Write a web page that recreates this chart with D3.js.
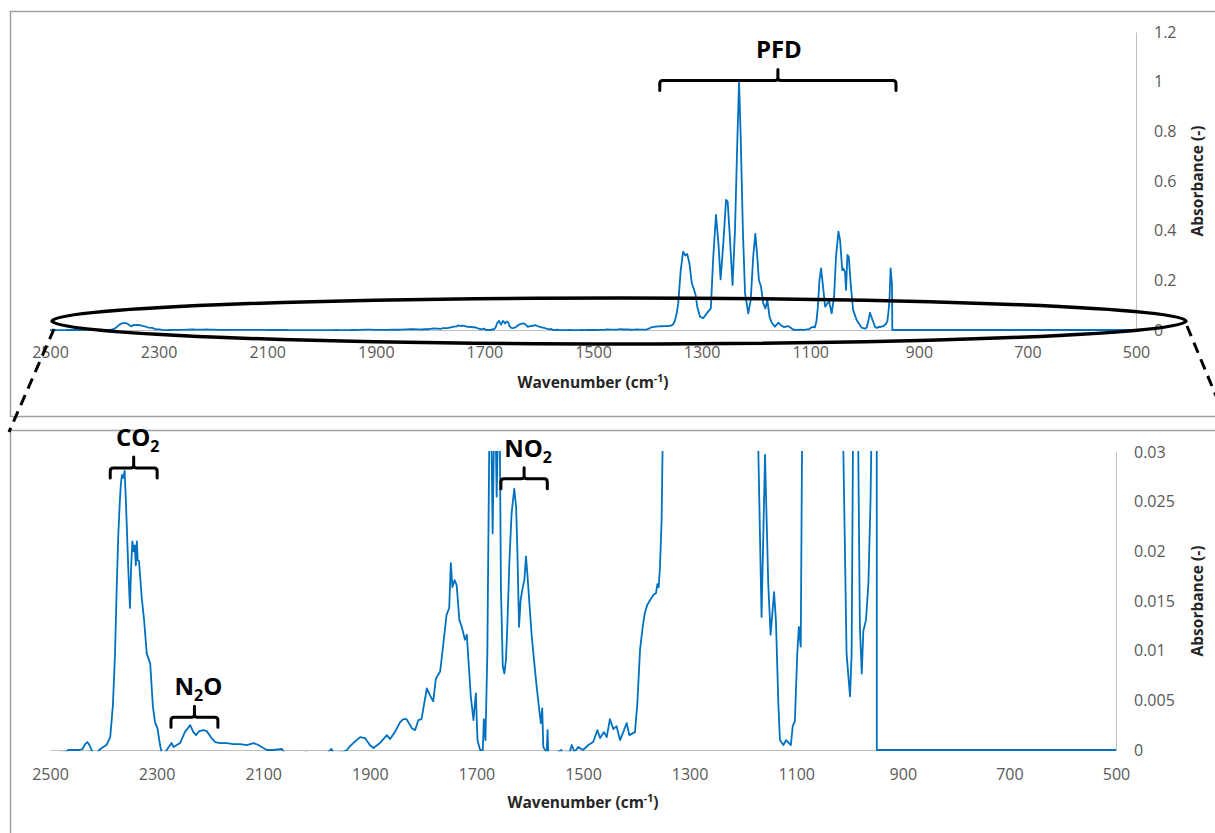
<!DOCTYPE html>
<html>
<head>
<meta charset="utf-8">
<script src="https://cdn.jsdelivr.net/npm/d3@7"></script>
<style>
  body { margin: 0; background: #fff; }
  svg { display: block; font-family: "Open Sans", sans-serif; }
</style>
</head>
<body>
<div id="chart"></div>
<script>
// FTIR spectrum of the gas phase - full view on top, zoom on 0-0.03 below
// same series in both panels, the zoom just clips everything above 0.03

// wavenumber (cm-1), descending
const wavenumbers = [
  2500, 2485, 2470, 2466, 2445, 2439, 2434, 2430, 2426, 2422, 2418, 2411, 2408, 2400, 2394, 2387,
  2382, 2378, 2375, 2372, 2369, 2367, 2365, 2362.5, 2360, 2357.5, 2353, 2350, 2348, 2345.5, 2343,
  2341, 2339, 2337, 2335.5, 2333, 2328, 2323.5, 2318.5, 2312, 2307, 2303, 2298.5, 2293.5, 2290,
  2284, 2281, 2272, 2268, 2262, 2256, 2247, 2237, 2231, 2226, 2220, 2212, 2206, 2197, 2190, 2181,
  2168, 2156, 2143, 2131, 2118, 2109, 2100, 2093, 2081, 2065, 2060, 2040, 2018, 2000, 1980, 1972,
  1968, 1950, 1943, 1937, 1931, 1918, 1909, 1900, 1893, 1881, 1868, 1862, 1853, 1843, 1837, 1831,
  1821, 1815, 1809, 1803, 1793, 1787, 1781, 1776, 1768, 1762, 1756, 1751, 1748, 1745, 1741, 1737,
  1732, 1727.5, 1721.5, 1718, 1715, 1710.5, 1705.5, 1701, 1698, 1693, 1688, 1686, 1683, 1679.5,
  1676, 1673, 1669.5, 1666, 1664, 1662, 1659, 1656, 1654, 1650.5, 1647.5, 1644.5, 1642, 1638,
  1634, 1629, 1625.5, 1623, 1620, 1617, 1613, 1610, 1607, 1604.5, 1601, 1596.5, 1592, 1587, 1582,
  1579, 1576.5, 1574.5, 1571, 1568, 1566.5, 1565, 1550, 1541, 1538, 1525, 1521, 1516, 1509, 1500,
  1490, 1481, 1473, 1468, 1460.5, 1455.5, 1449.5, 1443, 1437, 1430.5, 1424.5, 1418, 1413, 1402.5,
  1398, 1393, 1388, 1384, 1379.5, 1374, 1368, 1363, 1360.5, 1358, 1355.5, 1352.5, 1349.5, 1346,
  1343, 1338.5, 1334, 1330, 1326.5, 1322.5, 1318, 1315, 1311, 1308, 1303, 1297, 1288, 1283, 1278.5,
  1273.5, 1269, 1265, 1260, 1255, 1252, 1248, 1243, 1238.5, 1234, 1231, 1228, 1224, 1220, 1214,
  1209.5, 1205, 1201, 1197.5, 1194.5, 1190.5, 1186.5, 1182.5, 1179, 1175, 1171, 1165, 1158.5,
  1152.5, 1148, 1141.5, 1138, 1133.5, 1130.5, 1124, 1119, 1110, 1106.5, 1102.5, 1098, 1095, 1091.5,
  1088.5, 1086, 1083, 1080, 1077, 1072.5, 1068.5, 1065, 1060.5, 1056, 1052.5, 1048, 1045, 1041,
  1039, 1036, 1034, 1031.5, 1029, 1025.5, 1021, 1014.5, 1011.5, 1005.5, 999, 996, 993, 990, 986,
  983.5, 980.5, 977, 974, 969, 964.5, 960.5, 958, 956, 954, 952, 949.5, 949.2, 948.8, 900, 700, 500
]

// absorbance (-) at each wavenumber above
const absorbance = [
  -0.0004, -0.0003, -0.0002, 0, 0, 0.0001, 0.0006, 0.0008, 0.0005, 0, -0.0004, -0.0003, 0, 0.0003, 0.0005, 0.0013,
  0.0045, 0.0097, 0.016, 0.0215, 0.025, 0.0268, 0.0277, 0.0274, 0.0281, 0.0249, 0.0181, 0.0143, 0.0181, 0.021, 0.02,
  0.0206, 0.0186, 0.021, 0.0191, 0.019, 0.0154, 0.0131, 0.0097, 0.0087, 0.0044, 0.0028, 0.0022, 0.0005, -0.0004,
  -0.0003, 0, 0.0007, 0.0003, 0.0005, 0.0007, 0.0018, 0.0025, 0.0018, 0.0015, 0.0019, 0.002, 0.0019, 0.0012, 0.0008, 0.0007,
  0.0007, 0.0006, 0.0006, 0.0005, 0.0007, 0.0005, 0.0002, 0, 0, 0.0001, -0.0003, -0.0005, -0.0002, -0.0006, -0.0003, 0.0001,
  -0.0003, -0.0002, 0, 0.0004, 0.0007, 0.0013, 0.0012, 0.0005, 0.0002, 0.0007, 0.0015, 0.0011, 0.0018, 0.0028, 0.0031, 0.0031,
  0.0022, 0.002, 0.003, 0.0031, 0.0062, 0.0055, 0.0049, 0.0072, 0.0079, 0.0107, 0.0136, 0.0143, 0.0188, 0.0164, 0.0171, 0.0166,
  0.0131, 0.0124, 0.0111, 0.0116, 0.0091, 0.0054, 0.003, 0.0057, 0.001, 0, 0, 0.0031, 0.001, 0.0097,
  0.03, 0.037, 0.0218, 0.036, 0.033, 0.0255, 0.034, 0.031, 0.0164, 0.0084, 0.0077, 0.0091, 0.0124, 0.0191,
  0.0238, 0.0263, 0.0245, 0.0198, 0.0124, 0.0151, 0.0164, 0.0171, 0.0195, 0.0178, 0.0151, 0.0117, 0.0091, 0.0064, 0.004,
  0.0027, 0.0042, 0.0003, 0, -0.0002, 0.002, -0.0004, -0.0003, 0, -0.0003, -0.0002, 0.0005, -0.0002, 0.0003, 0,
  0.0005, 0.0008, 0.002, 0.0012, 0.0018, 0.0013, 0.0031, 0.0021, 0.0024, 0.001, 0.0018, 0.0027, 0.0015, 0.0018,
  0.0047, 0.0101, 0.0124, 0.0138, 0.0146, 0.0151, 0.0156, 0.0158, 0.0167, 0.0164, 0.0185, 0.0232, 0.035, 0.065,
  0.107, 0.24, 0.315, 0.3, 0.306, 0.269, 0.188, 0.17, 0.141, 0.094, 0.054, 0.047, 0.074, 0.087, 0.295,
  0.463, 0.349, 0.204, 0.349, 0.524, 0.517, 0.376, 0.181, 0.403, 0.778, 1.0, 0.778, 0.403, 0.148, 0.067,
  0.121, 0.295, 0.387, 0.295, 0.201, 0.174, 0.107, 0.087, 0.121, 0.054, 0.03, 0.0134, 0.0297,
  0.0168, 0.0116, 0.0159, 0.013, 0.0047, 0.001, 0.0005, 0.001, 0.0005, 0.0024, 0.0029, 0.0097, 0.0124, 0.0104,
  0.035, 0.09, 0.2, 0.248, 0.188, 0.094, 0.107, 0.114, 0.067, 0.134, 0.295, 0.396, 0.362, 0.241,
  0.248, 0.234, 0.161, 0.302, 0.295, 0.188, 0.081, 0.04, 0.03, 0.0097, 0.0054, 0.0097, 0.035, 0.07, 0.045,
  0.03, 0.0124, 0.0077, 0.012, 0.0131, 0.0168, 0.0252, 0.035, 0.07, 0.12, 0.248, 0.188, 0.15, 0, 0, 0, 0
]

const xTicks = [2500, 2300, 2100, 1900, 1700, 1500, 1300, 1100, 900, 700, 500]
const topYTicks = [0, 0.2, 0.4, 0.6, 0.8, 1, 1.2]
const zoomYTicks = [0, 0.005, 0.01, 0.015, 0.02, 0.025, 0.03]

// band annotations: label parts [text, isSubscript], wavenumber span, brace height (absorbance)
const topBands = [
  { parts: [["PFD", false]], from: 1377, to: 942, at: 1.005 }
]
const zoomBands = [
  { parts: [["CO", false], ["2", true]], from: 2387, to: 2299, at: 0.0284 },
  { parts: [["N", false], ["2", true], ["O", false]], from: 2273, to: 2185, at: 0.0033 },
  { parts: [["NO", false], ["2", true]], from: 1654, to: 1567, at: 0.0273 }
]

const spectrum = wavenumbers.map((w, i) => ({ wn: w, a: absorbance[i] }))

const W = 1215, H = 833
const lineColor = "#0070c0"
const axisColor = "#bfbfbf"
const tickColor = "#595959"

const svg = d3.select("#chart").append("svg")
  .attr("width", W).attr("height", H)

// outer frames of the two chart objects (they run off the right / bottom edge)
svg.append("rect")
  .attr("x", 10.5).attr("y", 11.5).attr("width", 1230).attr("height", 405)
  .attr("fill", "none").attr("stroke", "#a0a0a0").attr("stroke-width", 1.5)
svg.append("rect")
  .attr("x", 10.5).attr("y", 430.5).attr("width", 1230).attr("height", 430)
  .attr("fill", "none").attr("stroke", "#a0a0a0").attr("stroke-width", 1.5)

// draws one panel, returns the scales so the annotations can use them
function drawPanel(opt) {
  const x = d3.scaleLinear().domain([2500, 500]).range([opt.left, opt.right])
  const y = d3.scaleLinear().domain([0, opt.yMax]).range([opt.bottom, opt.top])

  const g = svg.append("g")

  // clip so the zoom panel cuts the tall peaks and hides the negative noise
  const clipId = "clip" + opt.id
  svg.append("clipPath").attr("id", clipId)
    .append("rect")
    .attr("x", opt.left - 2).attr("y", opt.top - 1)
    .attr("width", opt.right - opt.left + 4)
    .attr("height", opt.bottom - opt.top + 1 + opt.clipBelow)

  // x axis (no tick marks, just labels)
  const xAxis = g.append("g")
    .attr("transform", `translate(0,${opt.bottom})`)
    .call(d3.axisBottom(x).tickValues(xTicks).tickSize(0).tickSizeOuter(0)
      .tickPadding(opt.xPad).tickFormat(d3.format("d")))
  xAxis.select(".domain").attr("stroke", axisColor).attr("stroke-width", 1)
  xAxis.selectAll("text")
    .style("font-size", "16px").style("fill", tickColor)
    .style("font-family", "'Open Sans', sans-serif")

  // y axis sits on the right
  const yAxis = g.append("g")
    .attr("transform", `translate(${opt.right},0)`)
    .call(d3.axisRight(y).tickValues(opt.yTicks).tickSize(0).tickSizeOuter(0)
      .tickPadding(18).tickFormat(d => String(d)))
  yAxis.select(".domain").attr("stroke", axisColor).attr("stroke-width", 1)
  yAxis.selectAll("text")
    .style("font-size", "16px").style("fill", tickColor)
    .style("font-family", "'Open Sans', sans-serif")

  // axis titles
  const xt = g.append("text")
    .attr("x", (opt.left + opt.right) / 2).attr("y", opt.bottom + opt.titleDy)
    .attr("text-anchor", "middle")
    .style("font-size", "15.5px").style("font-weight", "bold").style("fill", "#262626")
  xt.append("tspan").text("Wavenumber (cm")
  xt.append("tspan").attr("dy", -6).style("font-size", "10.5px").text("-1")
  xt.append("tspan").attr("dy", 6).text(")")

  g.append("text")
    .attr("transform", `translate(1203,${(opt.top + opt.bottom) / 2}) rotate(-90)`)
    .attr("text-anchor", "middle")
    .style("font-size", "15.5px").style("font-weight", "bold").style("fill", "#262626")
    .text("Absorbance (-)")

  // the spectrum
  const line = d3.line().x(d => x(d.wn)).y(d => y(d.a))
  g.append("path")
    .datum(spectrum)
    .attr("clip-path", `url(#${clipId})`)
    .attr("fill", "none")
    .attr("stroke", lineColor)
    .attr("stroke-width", 1.8)
    .attr("stroke-linejoin", "round")
    .attr("d", line)

  return { x, y }
}

// curly bracket over a band, with its label on top
function drawBands(bands, sc) {
  bands.forEach(b => {
    const x1 = sc.x(b.from), x2 = sc.x(b.to), xm = (x1 + x2) / 2
    const yb = sc.y(b.at)
    const p = d3.path()
    p.moveTo(x1, yb + 10)
    p.lineTo(x1, yb + 3)
    p.quadraticCurveTo(x1, yb, x1 + 3, yb)
    p.lineTo(xm - 3, yb)
    p.quadraticCurveTo(xm, yb, xm, yb - 3)
    p.lineTo(xm, yb - 11)
    p.moveTo(xm, yb - 3)
    p.quadraticCurveTo(xm, yb, xm + 3, yb)
    p.lineTo(x2 - 3, yb)
    p.quadraticCurveTo(x2, yb, x2, yb + 3)
    p.lineTo(x2, yb + 10)
    svg.append("path")
      .attr("d", p.toString())
      .attr("fill", "none").attr("stroke", "#000").attr("stroke-width", 3)
      .attr("stroke-linecap", "round").attr("stroke-linejoin", "round")

    const hasSub = b.parts.length > 1
    const t = svg.append("text")
      .attr("x", xm + (hasSub ? 4 : 1)).attr("y", yb - 22)
      .attr("text-anchor", "middle")
      .style("font-size", "24px").style("font-weight", "bold").style("fill", "#000")
    let shifted = false
    b.parts.forEach(([txt, sub]) => {
      const ts = t.append("tspan").text(txt)
      if (sub) { ts.attr("dy", 6).style("font-size", "16px"); shifted = true }
      else if (shifted) { ts.attr("dy", -6); shifted = false }
    })
  })
}

const topSc = drawPanel({
  id: "Top", left: 50, right: 1136, top: 32, bottom: 330,
  yMax: 1.2, yTicks: topYTicks, xPad: 17, titleDy: 58, clipBelow: 3
})
const zoomSc = drawPanel({
  id: "Zoom", left: 50, right: 1116, top: 452, bottom: 750,
  yMax: 0.03, yTicks: zoomYTicks, xPad: 19, titleDy: 58, clipBelow: 1.2
})

drawBands(topBands, topSc)
drawBands(zoomBands, zoomSc)

// ellipse marking the low-absorbance strip that the lower panel zooms into
const ex1 = 52, ex2 = 1186
svg.append("ellipse")
  .attr("cx", (ex1 + ex2) / 2).attr("cy", 321)
  .attr("rx", (ex2 - ex1) / 2).attr("ry", 23)
  .attr("fill", "none").attr("stroke", "#000").attr("stroke-width", 3.5)

// dashed leader lines down to the zoom panel
svg.append("line")
  .attr("x1", 54).attr("y1", 329).attr("x2", 9).attr("y2", 432)
  .attr("stroke", "#000").attr("stroke-width", 3).attr("stroke-dasharray", "11,7")
svg.append("line")
  .attr("x1", 1187).attr("y1", 326).attr("x2", 1216).attr("y2", 396)
  .attr("stroke", "#000").attr("stroke-width", 3).attr("stroke-dasharray", "11,7")
</script>
</body>
</html>
